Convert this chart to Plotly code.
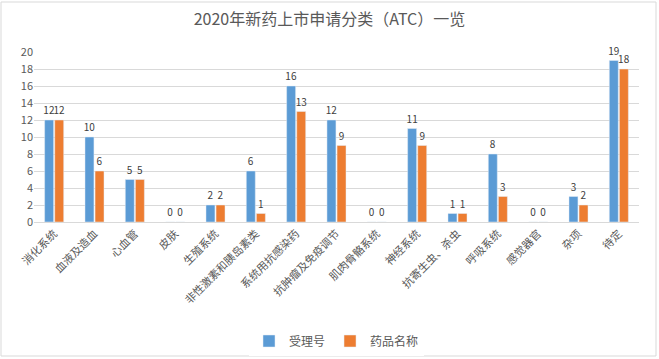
import plotly.graph_objects as go

categories = ["消化系统", "血液及造血", "心血管", "皮肤", "生殖系统", "非性激素和胰岛素类",
              "系统用抗感染药", "抗肿瘤及免疫调节", "肌肉骨骼系统", "神经系统", "抗寄生虫、杀虫",
              "呼吸系统", "感觉器官", "杂项", "待定"]
acceptance = [12, 10, 5, 0, 2, 6, 16, 12, 0, 11, 1, 8, 0, 3, 19]
drug_names = [12, 6, 5, 0, 2, 1, 13, 9, 0, 9, 1, 3, 0, 2, 18]
y_ticks = [0, 2, 4, 6, 8, 10, 12, 14, 16, 18, 20]

FONT = "Noto Sans CJK SC"
fig = go.Figure()
fig.add_trace(go.Bar(name="受理号", x=categories, y=acceptance, marker_color="#5B9BD5",
                     text=acceptance, textposition="outside", cliponaxis=False,
                     constraintext="none",
                     textfont=dict(size=10, color="#404040")))
fig.add_trace(go.Bar(name="药品名称", x=categories, y=drug_names, marker_color="#ED7D31",
                     text=drug_names, textposition="outside", cliponaxis=False,
                     constraintext="none",
                     textfont=dict(size=10, color="#404040")))

fig.update_layout(
    width=659, height=359,
    margin=dict(l=34, r=20, t=52, b=137, autoexpand=False),
    paper_bgcolor="white", plot_bgcolor="white",
    font=dict(family=FONT, color="#595959", size=11),
    title=dict(text="2020年新药上市申请分类（ATC）一览", x=0.5, xanchor="center",
               y=0.945, yanchor="middle", font=dict(size=16, color="#595959")),
    barmode="group", bargap=0.5, bargroupgap=0.11,
    showlegend=True,
    legend=dict(orientation="h", x=0.5, xanchor="center", y=-0.7, yanchor="middle",
                font=dict(size=12, color="#595959"), itemwidth=30, traceorder="normal"),
    uniformtext=dict(mode=False),
)
fig.update_xaxes(tickangle=-45, tickfont=dict(size=11, color="#595959"), automargin=False,
                 showline=True, linecolor="#D9D9D9", ticks="")
fig.update_yaxes(range=[0, 20], tickvals=y_ticks, showgrid=True, gridcolor="#D9D9D9",
                 automargin=False,
                 zeroline=False, tickfont=dict(size=11, color="#595959"), ticks="")
fig.add_shape(type="rect", xref="paper", yref="paper",
              x0=-33/605, x1=1 + 17/605, y0=-134/170, y1=1 + 50/170,
              line=dict(color="#D9D9D9", width=1))
fig.write_html("out.html", config={"displayModeBar": False},
               post_script="document.body.style.margin='0';")
